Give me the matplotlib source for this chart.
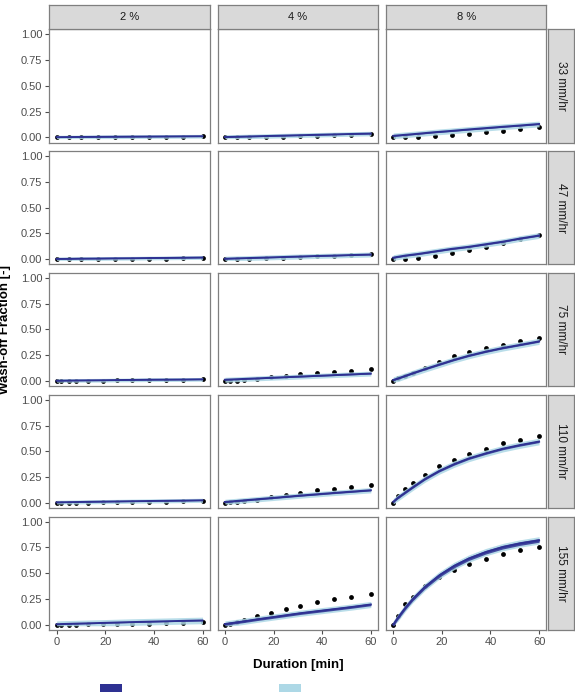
import matplotlib
matplotlib.use("Agg")
import matplotlib.pyplot as plt
from matplotlib.patches import Rectangle
import numpy as np

plt.rcParams['font.family'] = ['Liberation Sans', 'DejaVu Sans']

# ---------------- data ----------------
slopes = ["2 %", "4 %", "8 %"]
intensities = ["33 mm/hr", "47 mm/hr", "75 mm/hr", "110 mm/hr", "155 mm/hr"]

t_short = [0, 5, 10, 17, 24, 31, 38, 45, 52, 60]
t_long = [0, 2, 5, 8, 13, 19, 25, 31, 38, 45, 52, 60]

# observed wash-off fraction
obs_33_2 = [0, 0, 0, 0, 0, 0, 0.003, 0.005, 0.007, 0.01]
obs_33_4 = [0, 0, 0, 0.005, 0.008, 0.012, 0.016, 0.02, 0.024, 0.03]
obs_33_8 = [0, 0, 0.005, 0.016, 0.026, 0.035, 0.048, 0.064, 0.083, 0.10]
obs_47_2 = [0, 0, 0, 0, 0.002, 0.003, 0.005, 0.006, 0.008, 0.01]
obs_47_4 = [0, 0, 0.003, 0.008, 0.013, 0.02, 0.027, 0.034, 0.042, 0.05]
obs_47_8 = [0, 0, 0.01, 0.03, 0.06, 0.09, 0.12, 0.155, 0.20, 0.23]
obs_75_2 = [0, 0, 0, 0, 0.002, 0.004, 0.006, 0.008, 0.01, 0.012, 0.013, 0.015]
obs_75_4 = [0, 0, 0.003, 0.006, 0.02, 0.035, 0.05, 0.063, 0.073, 0.088, 0.1, 0.115]
obs_75_8 = [0, 0.027, 0.046, 0.075, 0.123, 0.18, 0.24, 0.277, 0.318, 0.354, 0.39, 0.415]
obs_110_2 = [0, 0, 0, 0, 0.002, 0.004, 0.006, 0.008, 0.01, 0.012, 0.014, 0.018]
obs_110_4 = [0, 0.003, 0.008, 0.015, 0.03, 0.06, 0.075, 0.095, 0.12, 0.135, 0.155, 0.175]
obs_110_8 = [0, 0.07, 0.13, 0.19, 0.27, 0.355, 0.415, 0.47, 0.525, 0.58, 0.61, 0.645]
obs_155_2 = [0, 0, 0, 0, 0.002, 0.004, 0.006, 0.008, 0.01, 0.012, 0.015, 0.02]
obs_155_4 = [0, 0.003, 0.02, 0.04, 0.08, 0.115, 0.15, 0.18, 0.215, 0.245, 0.27, 0.295]
obs_155_8 = [0, 0.085, 0.2, 0.27, 0.375, 0.46, 0.53, 0.59, 0.64, 0.69, 0.72, 0.755]

# model median
mod_33_2 = [0.002, 0.003, 0.004, 0.005, 0.006, 0.007, 0.008, 0.009, 0.010, 0.011]
mod_33_4 = [0.003, 0.006, 0.009, 0.013, 0.017, 0.021, 0.025, 0.029, 0.033, 0.037]
mod_33_8 = [0.015, 0.025, 0.035, 0.05, 0.063, 0.077, 0.09, 0.103, 0.115, 0.13]
mod_47_2 = [0.002, 0.003, 0.005, 0.006, 0.008, 0.009, 0.011, 0.012, 0.014, 0.016]
mod_47_4 = [0.004, 0.008, 0.011, 0.016, 0.021, 0.026, 0.031, 0.035, 0.04, 0.045]
mod_47_8 = [0.015, 0.035, 0.05, 0.075, 0.10, 0.12, 0.145, 0.17, 0.20, 0.23]
mod_75_2 = [0.002, 0.003, 0.004, 0.005, 0.006, 0.007, 0.009, 0.010, 0.012, 0.013, 0.014, 0.016]
mod_75_4 = [0.012, 0.014, 0.017, 0.02, 0.025, 0.031, 0.037, 0.043, 0.05, 0.057, 0.064, 0.072]
mod_75_8 = [0.01, 0.025, 0.05, 0.075, 0.115, 0.16, 0.205, 0.245, 0.285, 0.32, 0.35, 0.385]
mod_110_2 = [0.004, 0.005, 0.006, 0.007, 0.009, 0.011, 0.013, 0.015, 0.017, 0.019, 0.021, 0.024]
mod_110_4 = [0.008, 0.012, 0.018, 0.024, 0.034, 0.046, 0.058, 0.07, 0.083, 0.096, 0.108, 0.122]
mod_110_8 = [0.01, 0.05, 0.1, 0.15, 0.23, 0.31, 0.375, 0.43, 0.48, 0.525, 0.56, 0.595]
mod_155_2 = [0.003, 0.005, 0.007, 0.009, 0.012, 0.016, 0.02, 0.024, 0.028, 0.032, 0.036, 0.04]
mod_155_4 = [0.005, 0.012, 0.022, 0.032, 0.05, 0.07, 0.09, 0.11, 0.13, 0.15, 0.17, 0.195]
mod_155_8 = [0.0, 0.069, 0.163, 0.247, 0.365, 0.479, 0.569, 0.64, 0.703, 0.752, 0.787, 0.818]

# half-widths of light (prediction) and dark (credible) bands, per row x column
pi_half = [[0.018, 0.022, 0.028],
           [0.018, 0.024, 0.028],
           [0.018, 0.024, 0.03],
           [0.02, 0.026, 0.032],
           [0.032, 0.03, 0.036]]
ci_half = [[0.003, 0.004, 0.006],
           [0.003, 0.004, 0.007],
           [0.003, 0.005, 0.008],
           [0.003, 0.007, 0.010],
           [0.004, 0.012, 0.018]]

legend_labels = ["Posterior mean (95% CI)", "Posterior predictive (95% PI)"]

obs = [[obs_33_2, obs_33_4, obs_33_8],
       [obs_47_2, obs_47_4, obs_47_8],
       [obs_75_2, obs_75_4, obs_75_8],
       [obs_110_2, obs_110_4, obs_110_8],
       [obs_155_2, obs_155_4, obs_155_8]]
mod = [[mod_33_2, mod_33_4, mod_33_8],
       [mod_47_2, mod_47_4, mod_47_8],
       [mod_75_2, mod_75_4, mod_75_8],
       [mod_110_2, mod_110_4, mod_110_8],
       [mod_155_2, mod_155_4, mod_155_8]]
times = [t_short, t_short, t_long, t_long, t_long]

# ---------------- layout ----------------
W, H = 575, 692
fig = plt.figure(figsize=(W / 100, H / 100), dpi=100)

def rect(l, t, w, h):
    return [l / W, 1 - (t + h) / H, w / W, h / H]

col_left = [49.3, 217.6, 385.9]
pw = 160.5
row_top = [29.3 + i * 121.8 for i in range(5)]
ph = 113.2

dark = '#2E3192'
light = '#ADD8E6'
border = '#7F7F7F'
tickc = '#4D4D4D'

for r in range(5):
    for c in range(3):
        ax = fig.add_axes(rect(col_left[c], row_top[r], pw, ph))
        t = np.array(times[r])
        m = np.array(mod[r][c])
        o = np.array(obs[r][c])
        ax.scatter(t, o, s=12, color='black', zorder=2, linewidths=0)
        ax.fill_between(t, np.maximum(m - pi_half[r][c], -0.012), m + pi_half[r][c],
                        color=light, alpha=0.85, lw=0, zorder=3)
        ax.fill_between(t, m - ci_half[r][c], m + ci_half[r][c],
                        color=dark, alpha=0.85, lw=0, zorder=4)
        ax.plot(t, m, color=dark, lw=1.4, zorder=5)
        ax.set_xlim(-3, 63)
        ax.set_ylim(-0.05, 1.05)
        ax.set_xticks([0, 20, 40, 60])
        ax.set_yticks([0, 0.25, 0.5, 0.75, 1.0])
        for s in ax.spines.values():
            s.set_color(border)
            s.set_linewidth(0.9)
        ax.tick_params(color=tickc, labelcolor=tickc, labelsize=8, length=3, width=0.8, pad=2)
        if c == 0:
            ax.set_yticklabels(["0.00", "0.25", "0.50", "0.75", "1.00"])
        else:
            ax.tick_params(axis='y', length=0, labelleft=False)
        if r == 4:
            ax.set_xticklabels(["0", "20", "40", "60"])
        else:
            ax.tick_params(axis='x', length=0, labelbottom=False)
        # top strips
        if r == 0:
            sax = fig.add_axes(rect(col_left[c], 5, pw, 24.3))
            sax.set_facecolor('#D9D9D9')
            sax.set_xticks([]); sax.set_yticks([])
            for s in sax.spines.values():
                s.set_color(border); s.set_linewidth(0.9)
            sax.text(0.5, 0.5, slopes[c], ha='center', va='center', fontsize=8, color='#1A1A1A',
                     transform=sax.transAxes)
        # right strips
        if c == 2:
            sax = fig.add_axes(rect(548.4, row_top[r], 25.6, ph))
            sax.set_facecolor('#D9D9D9')
            sax.set_xticks([]); sax.set_yticks([])
            for s in sax.spines.values():
                s.set_color(border); s.set_linewidth(0.9)
            sax.text(0.5, 0.5, intensities[r], ha='center', va='center', fontsize=8.5,
                     color='#1A1A1A', rotation=-90, transform=sax.transAxes)

fig.text(298 / W, 1 - 665 / H, "Duration [min]", ha='center', va='center',
         fontsize=9.5, fontweight='bold')
fig.text(5 / W, 1 - 329 / H, "Wash-off Fraction [-]", ha='center', va='center',
         fontsize=9.5, fontweight='bold', rotation=90)

# legend (bottom, mostly outside the canvas as in the reference)
for x0, col, lab in [(100, dark, legend_labels[0]), (279, light, legend_labels[1])]:
    fig.patches.append(Rectangle((x0 / W, 1 - 706 / H), 22 / W, 22 / H,
                                 transform=fig.transFigure, facecolor=col, edgecolor='none'))
    fig.text((x0 + 28) / W, 1 - 699 / H, lab, ha='left', va='center', fontsize=9, color='#1A1A1A')

fig.savefig("out.png", dpi=100)
